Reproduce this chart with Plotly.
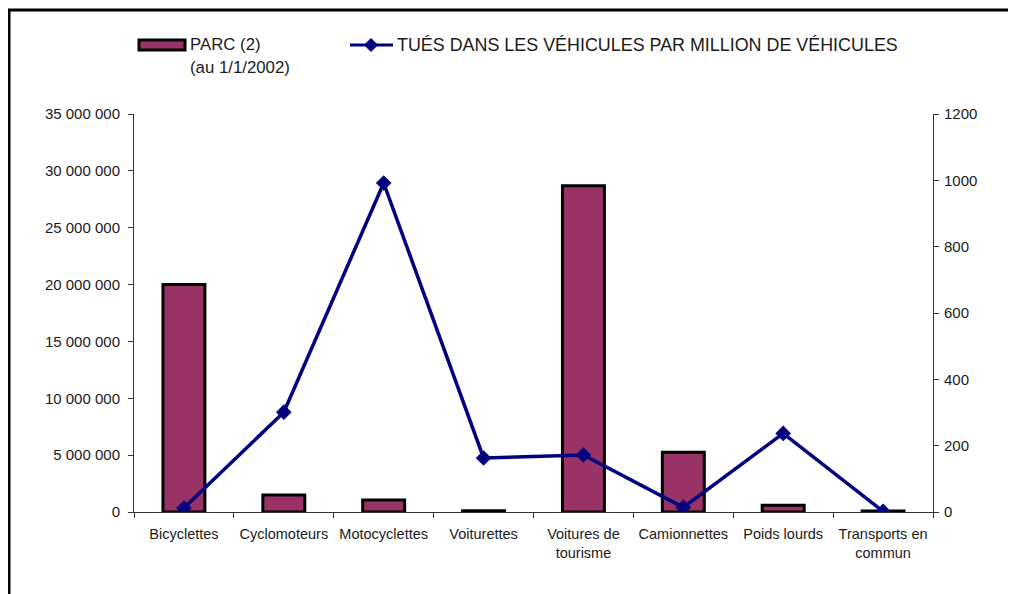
import plotly.graph_objects as go

categories = ["Bicyclettes", "Cyclomoteurs", "Motocyclettes", "Voiturettes",
              "Voitures de<br>tourisme", "Camionnettes", "Poids lourds",
              "Transports en<br>commun"]
parc = [20000000, 1500000, 1050000, 120000, 28700000, 5250000, 600000, 80000]
tues = [12, 301, 992, 163, 172, 14, 237, 2]

left_ticks = [0, 5000000, 10000000, 15000000, 20000000, 25000000, 30000000, 35000000]
left_ticktext = ["0", "5 000 000", "10 000 000", "15 000 000", "20 000 000",
                 "25 000 000", "30 000 000", "35 000 000"]
right_ticks = [0, 200, 400, 600, 800, 1000, 1200]

FONT = "Liberation Sans, Arial, sans-serif"
BAR_COLOR = "#993366"
LINE_COLOR = "#000080"
TXT = "#1a1a1a"

# page offset of the figure (body margin)
OFF = 8
W, H = 1008, 586
PL, PR, PT, PB = 134 - OFF, 933 - OFF, 114 - OFF, 512 - OFF  # plot area in fig px


def px_x(page_x):
    return (page_x - OFF - PL) / (PR - PL)


def px_y(page_y):
    return (PB - (page_y - OFF)) / (PB - PT)


fig = go.Figure()
fig.add_trace(go.Bar(
    x=categories, y=parc, width=0.42,
    marker=dict(color=BAR_COLOR, line=dict(color="black", width=3)),
    name="PARC (2) (au 1/1/2002)", showlegend=False, yaxis="y",
))
fig.add_trace(go.Scatter(
    x=categories, y=tues, mode="lines+markers",
    line=dict(color=LINE_COLOR, width=3.5),
    marker=dict(symbol="diamond", size=12, color=LINE_COLOR),
    name="TUÉS DANS LES VÉHICULES PAR MILLION DE VÉHICULES",
    showlegend=False, yaxis="y2",
))

axis_common = dict(showgrid=False, zeroline=False, showline=True,
                   linecolor="#333333", linewidth=1, ticks="outside",
                   ticklen=5, tickcolor="#333333",
                   tickfont=dict(family=FONT, size=15, color=TXT))

fig.update_layout(
    width=W, height=H,
    paper_bgcolor="white", plot_bgcolor="white",
    margin=dict(l=PL, r=W - PR, t=PT, b=H - PB),
    font=dict(family=FONT, size=15, color=TXT),
    xaxis=dict(**axis_common, tickson="boundaries", type="category",
               ticklabelstandoff=9),
    yaxis=dict(**axis_common, range=[0, 35000000], tickvals=left_ticks,
               ticktext=left_ticktext, ticklabelstandoff=5),
    yaxis2=dict(**axis_common, range=[0, 1200], tickvals=right_ticks,
                overlaying="y", side="right", ticklabelstandoff=2),
    bargap=0.58,
)
fig.update_xaxes(tickfont=dict(family=FONT, size=14.5, color=TXT))

# Outer frame (top and left edges)
fig.add_shape(type="line", xref="paper", yref="paper", x0=px_x(8), x1=px_x(1030),
              y0=px_y(10), y1=px_y(10), line=dict(color="black", width=3))
fig.add_shape(type="line", xref="paper", yref="paper", x0=px_x(9), x1=px_x(9),
              y0=px_y(10), y1=px_y(610), line=dict(color="black", width=3))

# Custom legend
fig.add_shape(type="rect", xref="paper", yref="paper",
              x0=px_x(139), x1=px_x(185), y0=px_y(50), y1=px_y(40),
              fillcolor=BAR_COLOR, line=dict(color="black", width=3))
fig.add_annotation(xref="paper", yref="paper", x=px_x(188), y=px_y(45),
                   text="PARC (2)", showarrow=False, xanchor="left",
                   yanchor="middle", font=dict(family=FONT, size=16.8, color=TXT))
fig.add_annotation(xref="paper", yref="paper", x=px_x(188), y=px_y(67),
                   text="(au 1/1/2002)", showarrow=False, xanchor="left",
                   yanchor="middle", font=dict(family=FONT, size=16.8, color=TXT))
fig.add_shape(type="line", xref="paper", yref="paper",
              x0=px_x(350), x1=px_x(393), y0=px_y(45), y1=px_y(45),
              line=dict(color=LINE_COLOR, width=3))
fig.add_shape(type="path", xref="paper", yref="paper",
              path=f"M {px_x(371)} {px_y(38.5)} L {px_x(377.5)} {px_y(45)} L {px_x(371)} {px_y(51.5)} L {px_x(364.5)} {px_y(45)} Z",
              fillcolor=LINE_COLOR, line=dict(color=LINE_COLOR, width=1))
fig.add_annotation(xref="paper", yref="paper", x=px_x(395), y=px_y(45),
                   text="TUÉS DANS LES VÉHICULES PAR MILLION DE VÉHICULES",
                   showarrow=False, xanchor="left", yanchor="middle",
                   font=dict(family=FONT, size=17.9, color=TXT))

fig.write_html("out.html")
